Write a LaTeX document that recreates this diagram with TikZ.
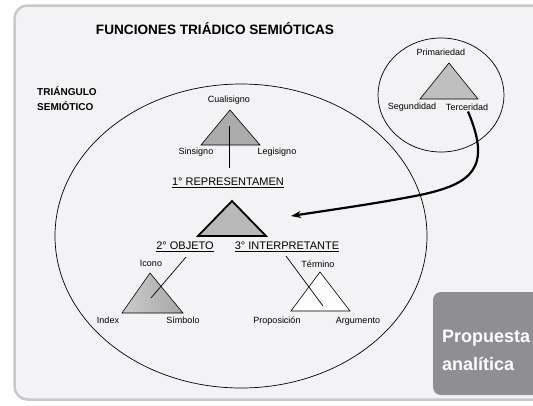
\documentclass[tikz,border=0pt]{standalone}
\usepackage{fontspec}
\setmainfont{Liberation Sans}
\usepackage{xcolor}
\usetikzlibrary{arrows.meta, positioning}

\definecolor{pagegray}{HTML}{F3F3F5}
\definecolor{framegray}{HTML}{C8C8CA}
\definecolor{boxgray}{HTML}{8E8E93}
\definecolor{trigray}{HTML}{ABABAB}

\begin{document}
\begin{tikzpicture}[
x=1pt, y=-1pt,
lbl/.style = {font=\fontsize{9}{10}\selectfont, inner sep=1pt},
head/.style = {font=\fontsize{11}{13}\selectfont, inner sep=1pt},
tri/.style = {draw, fill=trigray, line width=0.6pt},
link/.style = {draw, line width=0.7pt},
prop/.style = {font=\fontsize{18}{24}\bfseries\selectfont, text=white,
               inner sep=0pt, anchor=base west},
                        ]
\clip (0,0) rectangle (533,405);
% frame and grey box
\draw[line width=2.5pt, draw=framegray, fill=pagegray, rounded corners=13pt]
    (14.5,5.5) rectangle (600,399.5);
\fill[boxgray, rounded corners=8pt] (433,292) rectangle (600,395);
\node (prop1) [prop] at (442,342) {Propuesta};
\node (prop2) [prop] at (442,370) {analítica};

% titles
\node (title) at (215,29) {\fontsize{13.6}{16}\bfseries\selectfont FUNCIONES TRIÁDICO SEMIÓTICAS};
\node (trisem) [anchor=west, align=left, inner sep=0pt,
      font=\fontsize{10}{14.5}\bfseries\selectfont] at (37,98.5) {TRIÁNGULO\\SEMIÓTICO};

% big ellipse and small circle
\draw[line width=0.7pt] (241,236) ellipse [x radius=186, y radius=152];
\draw[line width=0.7pt] (441,95) ellipse [x radius=63, y radius=57];

% categories
\node (prim) [lbl] at (441,52)  {Primariedad};
\node (segu) [lbl] at (412,107) {Segundidad};
\node (terc) [lbl] at (467,107) {Terceridad};
\draw[tri, fill=gray!50] (449,63) -- (478,99) -- (420,99) -- cycle;

% representamen
\node (cual) [lbl] at (229,100) {Cualisigno};
\node (sins) [lbl] at (196,152) {Sinsigno};
\node (legi) [lbl] at (277,152) {Legisigno};
\draw[tri] (230,110) -- (260,145) -- (201,145) -- cycle;
\coordinate (cual-in) at (229,126);
\coordinate (cual-out) at (229,168);
\draw[link] (cual-in) -- (cual-out);
\node (rep) [head] at (228,183) {\underline{1° REPRESENTAMEN}};
\draw[tri, fill=gray!55, line width=1.8pt] (232,201) -- (266,236) -- (198,236) -- cycle;
\node (obj) [head] at (185,247) {\underline{2° OBJETO}};
\node (int) [head] at (287,247) {\underline{3° INTERPRETANTE}};

% objeto
\node (icon) [lbl] at (151,263) {Icono};
\node (index) [lbl] at (108,320) {Index};
\node (simb) [lbl] at (183,320) {Símbolo};
\shade[left color=gray!40, right color=gray!70] (150,273) -- (183,313) -- (122,313) -- cycle;
\draw[line width=0.6pt] (150,273) -- (183,313) -- (122,313) -- cycle;
\coordinate (obj-a) at (186,257);
\coordinate (obj-b) at (151,298);
\draw[link] (obj-a) -- (obj-b);

% interpretante
\node (term) [lbl] at (318,264) {Término};
\node (propo) [lbl] at (277,321) {Proposición};
\node (argu) [lbl] at (358,321) {Argumento};
\draw[tri, fill=white!85!pagegray] (320,272) -- (350,311) -- (291,311) -- cycle;
\coordinate (int-a) at (286,256);
\coordinate (int-b) at (323,306);
\draw[link] (int-a) -- (int-b);

% arrow
\coordinate (rep-tip) at (291,216);
\draw[line width=2.2pt, -{Stealth[length=10pt, width=7pt]}]
    ([xshift=1pt]terc.south) .. controls (492,168) and (472,184) .. (420,195)
    .. controls (380,203) and (330,210) .. (rep-tip);
\end{tikzpicture}
\end{document}
